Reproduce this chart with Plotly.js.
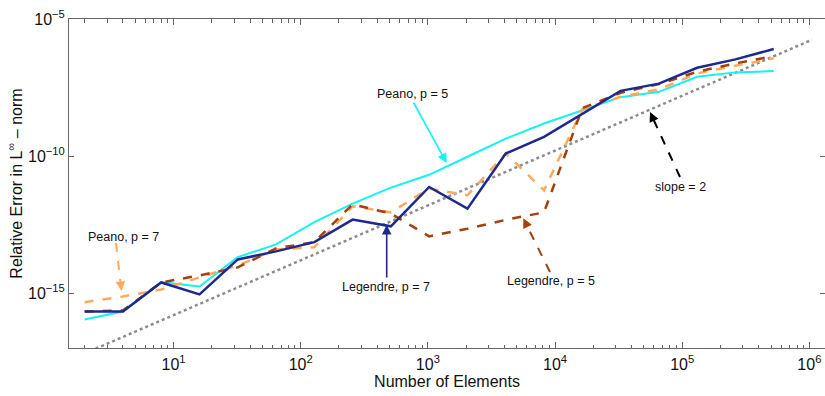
<!DOCTYPE html>
<html>
<head>
<meta charset="utf-8">
<script src="https://cdn.plot.ly/plotly-3.0.1.min.js"></script>
<style>html,body{margin:0;padding:0;background:#fff;}#chart{width:825px;height:396px;}</style>
</head>
<body>
<div id="chart"></div>
<script>
// Number of elements (powers of two)
const elements = [2,4,8,16,32,64,128,256,512,1024,2048,4096,8192,16384,32768,65536,131072,262144,524288];

// Relative error in L-infinity norm
const legendreP7 = [2.14e-16,2.14e-16,2.46e-15,8.97e-16,1.70e-14,3.34e-14,7.29e-14,4.81e-13,2.74e-13,7.46e-12,1.21e-12,1.24e-10,5.01e-10,3.38e-9,2.40e-8,4.40e-8,1.66e-7,3.37e-7,8.02e-7];
const peanoP5    = [1.09e-16,2.14e-16,2.52e-15,1.76e-15,2.07e-14,6.01e-14,3.93e-13,1.85e-12,7.10e-12,2.08e-11,9.46e-11,4.31e-10,1.55e-9,4.54e-9,1.41e-8,2.21e-8,7.80e-8,1.13e-7,1.26e-7];
const peanoP7    = [4.69e-16,7.57e-16,1.36e-15,3.75e-15,1.03e-14,3.95e-14,4.68e-14,1.47e-12,8.87e-13,6.52e-12,3.72e-12,1.24e-10,5.65e-12,5.15e-9,1.45e-8,2.70e-8,1.04e-7,1.97e-7,3.66e-7];
const legendreP5 = [2.14e-16,2.33e-16,2.46e-15,4.43e-15,8.69e-15,4.30e-14,7.29e-14,1.74e-12,7.96e-13,1.18e-13,2.25e-13,4.72e-13,8.87e-13,5.60e-9,2.03e-8,4.22e-8,1.19e-7,2.40e-7,4.45e-7];

// Reference slope-2 line endpoints
const slopeX = [2, 1.05e6];
const slopeY = [6.34e-18, 1.748e-6];

// Tick labels
const xTickVals = [10,100,1000,10000,100000,1000000];
const xTickText = ['10<sup>1</sup>','10<sup>2</sup>','10<sup>3</sup>','10<sup>4</sup>','10<sup>5</sup>','10<sup>6</sup>'];
const yTickVals = [1e-15,1e-10,1e-5];
const yTickText = ['10<sup>\u221215</sup>','10<sup>\u221210</sup>','10<sup>\u22125</sup>'];

const xMinor = [];
for (let d = 0; d <= 6; d++) for (let m = 2; m <= 9; m++) xMinor.push(m * Math.pow(10, d));

const FONT = 'Liberation Sans, Arial, Helvetica, sans-serif';
const C_NAVY = '#1c2a8c', C_CYAN = '#14f2f2', C_ORANGE = '#ffa95c', C_BROWN = '#a3400c';

const traces = [
  {x: slopeX, y: slopeY, mode:'lines', line:{color:'#8c8c8c', width:2.5, dash:'dot'}, hoverinfo:'skip'},
  {x: elements, y: peanoP5, mode:'lines', line:{color:C_CYAN, width:2}},
  {x: elements, y: peanoP7, mode:'lines', line:{color:C_ORANGE, width:2.5, dash:'dash'}},
  {x: elements, y: legendreP5, mode:'lines', line:{color:C_BROWN, width:2.5, dash:'dash'}},
  {x: elements, y: legendreP7, mode:'lines', line:{color:C_NAVY, width:2.5}},
  {x: [], y: [], xaxis: 'x2', yaxis: 'y', mode: 'lines', hoverinfo: 'skip'}
];

// plot area in pixels: x 69..825, y 19..348
const L = 69, R = 825, T = 19, B = 348;
const px = v => (v - L) / (R - L);
const py = v => (B - v) / (B - T);

function label(text, cx, cy) {
  return {xref:'paper', yref:'paper', x:px(cx), y:py(cy), text:text, showarrow:false,
          xanchor:'center', yanchor:'middle', font:{family:FONT, size:12.5, color:'#111'}};
}
function arrow(tx, ty, hx, hy, color) {
  return {xref:'paper', yref:'paper', x:px(hx), y:py(hy), ax:tx-hx, ay:ty-hy, text:'',
          showarrow:true, arrowhead:2, arrowsize:1.2, arrowwidth:1.6, arrowcolor:color, standoff:0, startstandoff:0};
}
function dashedArrow(tx, ty, hx, hy, color) {
  const dx = hx - tx, dy = hy - ty, len = Math.hypot(dx, dy);
  const s = 9 / len;
  const shape = {type:'line', xref:'paper', yref:'paper', x0:px(tx), y0:py(ty), x1:px(hx - dx*s), y1:py(hy - dy*s),
                 line:{color:color, width:2, dash:'dash'}};
  const head = {xref:'paper', yref:'paper', x:px(hx), y:py(hy), ax:-dx*s, ay:-dy*s, text:'',
                showarrow:true, arrowhead:2, arrowsize:1.2, arrowwidth:1.6, arrowcolor:color, standoff:0};
  return [shape, head];
}

const dA1 = dashedArrow(116, 243, 121.5, 291, C_ORANGE);
const dA2 = dashedArrow(550, 272, 523.3, 218.3, C_BROWN);
const dA3 = dashedArrow(680, 177, 650, 112, '#000');

const xCommon = {
  type: 'log', range: [0.178, 6.123],
  tickmode: 'array', tickvals: xTickVals, ticktext: xTickText,
  ticks: 'inside', ticklen: 6, tickcolor: '#666', tickwidth: 1,
  minor: {tickmode: 'array', tickvals: xMinor, ticks: 'inside', ticklen: 3.5, tickcolor: '#666', tickwidth: 1},
  showline: true, linecolor: '#666', linewidth: 1,
  showgrid: false, zeroline: false,
  tickfont: {family: FONT, size: 16, color: '#111'}
};

const layout = {
  width: 825, height: 396,
  margin: {l: L, r: 825 - R, t: T, b: 396 - B},
  paper_bgcolor: '#fff', plot_bgcolor: '#fff',
  showlegend: false,
  font: {family: FONT, color: '#111'},
  xaxis: Object.assign({}, xCommon, {
    ticklabelstandoff: 2,
    title: {text: 'Number of Elements', font: {family: FONT, size: 16, color: '#111'}, standoff: 3}
  }),
  xaxis2: Object.assign({}, xCommon, {overlaying: 'x', side: 'top', anchor: 'y', showticklabels: false}),
  yaxis: {
    type: 'log', range: [-17, -5],
    tickmode: 'array', tickvals: yTickVals, ticktext: yTickText,
    ticks: 'inside', ticklen: 5, tickcolor: '#666', tickwidth: 1,
    showline: true, linecolor: '#666', linewidth: 1, mirror: 'ticks',
    showgrid: false, zeroline: false,
    tickfont: {family: FONT, size: 16, color: '#111'},
    title: {text: 'Relative Error in L<sup>\u221e</sup> \u2013 norm', font: {family: FONT, size: 16, color: '#111'}, standoff: 1}
  },
  shapes: [dA1[0], dA2[0], dA3[0]],
  annotations: [
    label('Peano, p = 5', 412.5, 94),
    arrow(412.7, 101, 446.7, 163, C_CYAN),
    label('Peano, p = 7', 123.5, 237),
    dA1[1],
    label('Legendre, p = 7', 386, 287),
    arrow(386.7, 279, 386.7, 225, C_NAVY),
    label('Legendre, p = 5', 551, 281),
    dA2[1],
    label('slope = 2', 680.5, 187),
    dA3[1]
  ]
};

Plotly.newPlot('chart', traces, layout, {displayModeBar: false, staticPlot: true});
</script>
</body>
</html>
